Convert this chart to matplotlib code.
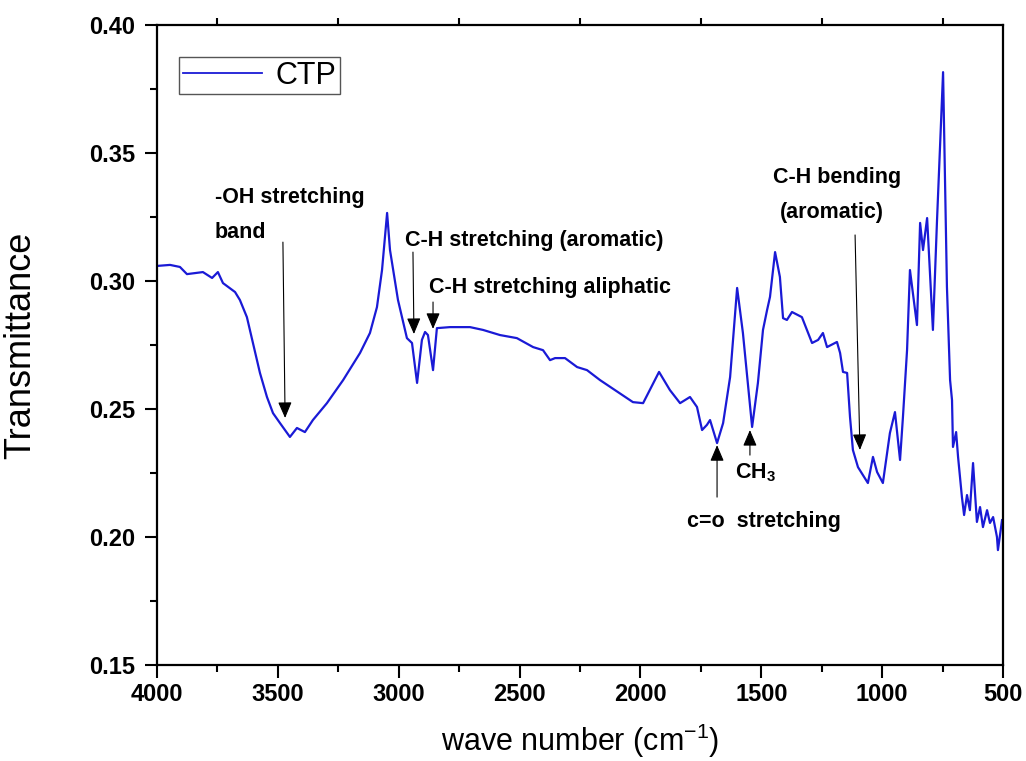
import matplotlib
matplotlib.use("Agg")
import matplotlib.pyplot as plt
from matplotlib.ticker import MultipleLocator, FixedLocator

plt.rcParams['font.family'] = ['Liberation Sans', 'DejaVu Sans']

# FTIR spectrum of CTP
wavenumber = [4000, 3946, 3905, 3876, 3810, 3772, 3748, 3727, 3677, 3657,
              3628, 3603, 3574, 3545, 3520, 3491, 3450, 3421, 3388, 3355,
              3297, 3230, 3160, 3119, 3090, 3069, 3048, 3036, 3003, 2966,
              2945, 2924, 2904, 2891, 2879, 2858, 2842, 2788, 2705, 2651,
              2581, 2511, 2444, 2403, 2374, 2353, 2312, 2262, 2221, 2167,
              2031, 1989, 1923, 1878, 1836, 1795, 1766, 1745, 1725, 1712,
              1683, 1658, 1629, 1600, 1576, 1538, 1514, 1493, 1476, 1464,
              1443, 1423, 1410, 1394, 1373, 1332, 1290, 1265, 1245, 1228,
              1187, 1174, 1162, 1145, 1133, 1121, 1100, 1059, 1038, 1021,
              997, 968, 947, 926, 914, 897, 885, 856, 843, 831,
              814, 790, 773, 748, 732, 719, 711, 707, 694, 686,
              670, 661, 649, 637, 624, 608, 595, 583, 566, 554,
              541, 525, 521, 504]
transmittance = [0.3059, 0.3063, 0.3055, 0.3027, 0.3035, 0.3012, 0.3035, 0.2992, 0.2957, 0.2926,
                 0.2859, 0.2758, 0.2641, 0.2547, 0.2484, 0.2445, 0.2391, 0.2426, 0.2410, 0.2457,
                 0.2523, 0.2613, 0.2719, 0.2797, 0.2898, 0.3043, 0.3266, 0.3121, 0.2926, 0.2777,
                 0.2758, 0.2602, 0.2770, 0.2801, 0.2789, 0.2652, 0.2816, 0.2820, 0.2820, 0.2809,
                 0.2789, 0.2777, 0.2742, 0.2730, 0.2691, 0.2699, 0.2699, 0.2664, 0.2652, 0.2613,
                 0.2527, 0.2523, 0.2645, 0.2574, 0.2523, 0.2547, 0.2508, 0.2418, 0.2438, 0.2457,
                 0.2367, 0.2445, 0.2625, 0.2973, 0.2797, 0.2430, 0.2602, 0.2809, 0.2887, 0.2938,
                 0.3113, 0.3016, 0.2855, 0.2848, 0.2879, 0.2859, 0.2758, 0.2770, 0.2797, 0.2742,
                 0.2762, 0.2719, 0.2645, 0.2641, 0.2469, 0.2340, 0.2273, 0.2211, 0.2313, 0.2254,
                 0.2211, 0.2406, 0.2488, 0.2301, 0.2469, 0.2730, 0.3043, 0.2828, 0.3227, 0.3121,
                 0.3246, 0.2809, 0.3238, 0.3816, 0.2977, 0.2613, 0.2535, 0.2352, 0.2410, 0.2313,
                 0.2156, 0.2086, 0.2164, 0.2105, 0.2289, 0.2059, 0.2117, 0.2039, 0.2105, 0.2055,
                 0.2078, 0.2000, 0.1949, 0.2066]

fig = plt.figure(figsize=(10.26, 7.61), dpi=100)
ax = fig.add_axes([0.1530, 0.1261, 0.8246, 0.8410])

ax.plot(wavenumber, transmittance, color='#1a1ad6', linewidth=1.6, label='CTP')

ax.set_xlim(4000, 500)
ax.set_ylim(0.15, 0.40)

ax.xaxis.set_major_locator(MultipleLocator(500))
ax.xaxis.set_minor_locator(FixedLocator(list(range(750, 4000, 500))))
ax.yaxis.set_major_locator(MultipleLocator(0.05))
ax.yaxis.set_minor_locator(MultipleLocator(0.025))
ax.yaxis.set_major_formatter(plt.FormatStrFormatter('%.2f'))

for s in ax.spines.values():
    s.set_linewidth(1.6)

ax.tick_params(axis='both', which='major', direction='out', length=9, width=1.5,
               top=False, right=False)
ax.tick_params(axis='both', which='minor', direction='out', length=5, width=1.5,
               right=False)
ax.tick_params(axis='x', which='minor', top=True)
ax.tick_params(axis='x', which='major', pad=4, labelsize=17)
ax.tick_params(axis='y', which='major', pad=7, labelsize=17)
for lbl in ax.get_xticklabels() + ax.get_yticklabels():
    lbl.set_fontweight('bold')

ax.set_xlabel('wave number (cm$^{\\mathregular{-1}}$)', fontsize=22)
ax.set_ylabel('Transmittance', fontsize=26)
ax.xaxis.set_label_coords(0.5, -0.088)
ax.yaxis.set_label_coords(-0.140, 0.5)

leg = ax.legend(loc='upper left', bbox_to_anchor=(0.026, 0.95), borderaxespad=0,
                fancybox=False, fontsize=22, handlelength=2.6, handletextpad=0.45,
                borderpad=0.12, framealpha=1)
leg.get_frame().set_edgecolor('#555555')
leg.get_frame().set_linewidth(1.0)
leg.get_lines()[0].set_linewidth(1.3)

# annotations
tkw = dict(fontsize=15.5, fontweight='bold', va='center', ha='left')
ax.text(3760, 0.3328, '-OH stretching', **tkw)
ax.text(3760, 0.3188, 'band', **tkw)
ax.text(2974, 0.3160, 'C-H stretching (aromatic)', **tkw)
ax.text(2875, 0.2973, 'C-H stretching aliphatic', **tkw)
ax.text(1452, 0.3406, 'C-H bending', **tkw)
ax.text(1423, 0.3266, '(aromatic)', **tkw)
ax.text(1807, 0.2059, 'c=o  stretching', **tkw)
ax.text(1609, 0.2250, 'CH$_{\\mathregular{3}}$', **tkw)

akw = dict(arrowstyle='-|>,head_length=0.7,head_width=0.3', color='black',
           lw=0.8, mutation_scale=14, shrinkA=0, shrinkB=0)
ax.annotate('', xy=(3470, 0.2465), xytext=(3479, 0.3152), arrowprops=akw)
ax.annotate('', xy=(2937, 0.2793), xytext=(2941, 0.3113), arrowprops=akw)
ax.annotate('', xy=(2858, 0.2813), xytext=(2858, 0.2918), arrowprops=akw)
ax.annotate('', xy=(1092, 0.2340), xytext=(1112, 0.3180), arrowprops=akw)
ax.annotate('', xy=(1683, 0.2359), xytext=(1683, 0.2156), arrowprops=akw)
ax.annotate('', xy=(1547, 0.2418), xytext=(1547, 0.2320), arrowprops=akw)

fig.savefig('out.png', dpi=100)
plt.close(fig)
